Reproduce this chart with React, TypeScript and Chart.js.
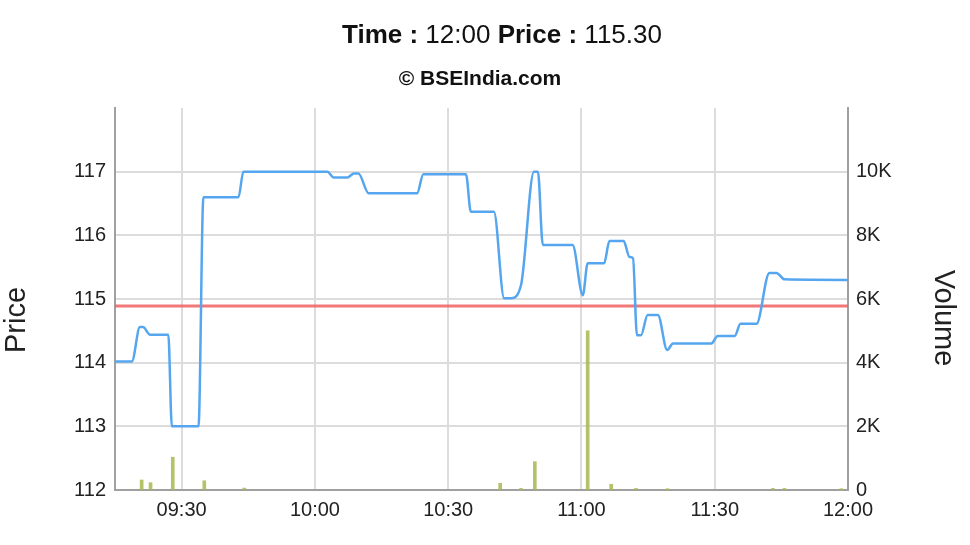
import React, { useEffect, useRef } from "react";
import { Chart, registerables } from "chart.js";

Chart.register(...registerables);

// ---- data (time in minutes after 09:00) ----
const titleTime = "12:00";
const titlePrice = "115.30";
const subtitleText = "© BSEIndia.com";
const priceAxisTitle = "Price";
const volumeAxisTitle = "Volume";

const priceTimes = [
  15.0, 18.8, 20.6, 21.3, 22.9, 27.0, 27.8, 33.8, 34.9, 42.8, 43.9, 62.8, 64.2, 67.3,
  68.8, 69.8, 72.1, 83.0, 84.4, 94.0, 95.1, 100.3, 102.6, 104.1, 106.4, 109.3, 110.2,
  111.3, 118.0, 120.3, 121.4, 125.1, 126.3, 129.5, 130.8, 131.6, 132.5, 133.4, 134.9,
  137.2, 139.3, 140.6, 149.2, 150.7, 154.5, 155.8, 159.4, 162.3, 163.9, 165.7, 180.0,
];
const prices = [
  114.02, 114.02, 114.56, 114.56, 114.44, 114.44, 113.0, 113.0, 116.6, 116.6, 117.0, 117.0,
  116.91, 116.91, 116.97, 116.97, 116.66, 116.66, 116.96, 116.96, 116.37, 116.37, 115.01,
  115.01, 115.22, 117.0, 117.0, 115.85, 115.85, 115.06, 115.56, 115.56, 115.91, 115.91,
  115.66, 115.64, 114.43, 114.43, 114.75, 114.75, 114.2, 114.3, 114.3, 114.42, 114.42,
  114.61, 114.61, 115.41, 115.41, 115.31, 115.3,
];

const volumeTimes = [21.0, 23.0, 28.0, 35.1, 44.1, 101.7, 106.4, 109.5, 121.4, 126.7, 132.3, 139.4, 163.1, 165.7, 178.5];
const volumes = [314, 230, 1030, 290, 60, 210, 50, 890, 5000, 180, 50, 40, 50, 50, 40];

const prevClose = 114.89;
const sessionStart = 15;
const sessionEnd = 180;
const timeTicks = [30, 60, 90, 120, 150, 180];
const priceTicks = [112, 113, 114, 115, 116, 117];
const priceMin = 112;
const priceMax = 118;
const volumeTicks = [0, 2000, 4000, 6000, 8000, 10000];
const volumeMax = 12000;

const FONT = '"Liberation Sans", Arial, sans-serif';

function fmtTime(m: number): string {
  const h = 9 + Math.floor(m / 60);
  const mm = Math.round(m % 60);
  return String(h).padStart(2, "0") + ":" + String(mm).padStart(2, "0");
}

const textPlugin = {
  id: "bseText",
  afterDraw(chart: any) {
    const ctx = chart.ctx as CanvasRenderingContext2D;
    ctx.save();
    ctx.fillStyle = "#111";
    ctx.textBaseline = "middle";
    ctx.textAlign = "left";
    const parts: [string, boolean][] = [
      ["Time : ", true],
      [titleTime + " ", false],
      ["Price : ", true],
      [titlePrice, false],
    ];
    let total = 0;
    const widths: number[] = [];
    for (const [t, b] of parts) {
      ctx.font = (b ? "bold " : "") + "26px " + FONT;
      const w = ctx.measureText(t).width;
      widths.push(w);
      total += w;
    }
    let x = 502 - total / 2;
    parts.forEach(([t, b], i) => {
      ctx.font = (b ? "bold " : "") + "26px " + FONT;
      ctx.fillText(t, x, 36);
      x += widths[i];
    });
    ctx.font = "bold 21px " + FONT;
    ctx.textAlign = "center";
    ctx.fillText(subtitleText, 480, 79);

    ctx.fillStyle = "#222";
    ctx.font = "29px " + FONT;
    ctx.save();
    ctx.translate(17, 320);
    ctx.rotate(-Math.PI / 2);
    ctx.fillText(priceAxisTitle, 0, 0);
    ctx.restore();
    ctx.save();
    ctx.translate(943, 318);
    ctx.rotate(Math.PI / 2);
    ctx.fillText(volumeAxisTitle, 0, 0);
    ctx.restore();
    ctx.restore();
  },
};

export default function App() {
  const ref = useRef<HTMLCanvasElement | null>(null);
  useEffect(() => {
    if (!ref.current) return;
    const priceData = priceTimes.map((t, i) => ({ x: t, y: prices[i] }));
    const volData = volumeTimes.map((t, i) => ({ x: t, y: volumes[i] }));
    const closeData = [
      { x: sessionStart, y: prevClose },
      { x: sessionEnd, y: prevClose },
    ];
    const tickFont = { family: FONT, size: 20 };
    const chart = new Chart(ref.current, {
      type: "line",
      data: {
        datasets: [
          {
            type: "line",
            data: priceData,
            borderColor: "#55a6ee",
            borderWidth: 2.5,
            pointRadius: 0,
            cubicInterpolationMode: "monotone",
            yAxisID: "y",
            order: 1,
          } as any,
          {
            type: "line",
            data: closeData,
            borderColor: "rgba(240,95,95,0.85)",
            borderWidth: 3,
            pointRadius: 0,
            yAxisID: "y",
            order: 2,
          } as any,
          {
            type: "bar",
            data: volData,
            backgroundColor: "rgba(165,185,80,0.85)",
            barThickness: 3,
            yAxisID: "yVol",
            order: 3,
          } as any,
        ],
      },
      options: {
        animation: false,
        responsive: true,
        maintainAspectRatio: false,
        layout: { padding: { top: 108, left: 0, right: 0, bottom: 0 } },
        plugins: { legend: { display: false }, tooltip: { enabled: false }, title: { display: false } },
        scales: {
          x: {
            type: "linear",
            min: sessionStart,
            max: sessionEnd,
            offset: false,
            afterBuildTicks: (s: any) => {
              s.ticks = timeTicks.map((v) => ({ value: v }));
            },
            afterFit: (s: any) => {
              s.height = 55;
            },
            ticks: {
              color: "#222",
              font: tickFont,
              padding: 8,
              maxRotation: 0,
              autoSkip: false,
              callback: (v: any) => fmtTime(Number(v)),
            },
            grid: { color: "#dcdcdc", lineWidth: 2, drawTicks: false, offset: false },
            border: { display: true, color: "#a0a0a0", width: 2 },
          },
          y: {
            type: "linear",
            position: "left",
            min: priceMin,
            max: priceMax,
            afterBuildTicks: (s: any) => {
              s.ticks = priceTicks.map((v) => ({ value: v }));
            },
            afterFit: (s: any) => {
              s.width = 115;
            },
            ticks: { color: "#222", font: tickFont, padding: 9, callback: (v: any) => String(v) },
            grid: { color: "#dcdcdc", lineWidth: 2, drawTicks: false },
            border: { display: true, color: "#a0a0a0", width: 2 },
          },
          yVol: {
            type: "linear",
            position: "right",
            min: 0,
            max: volumeMax,
            afterBuildTicks: (s: any) => {
              s.ticks = volumeTicks.map((v) => ({ value: v }));
            },
            afterFit: (s: any) => {
              s.width = 122;
            },
            ticks: {
              color: "#222",
              font: tickFont,
              padding: 8,
              callback: (v: any) => (Number(v) === 0 ? "0" : Number(v) / 1000 + "K"),
            },
            grid: { display: false, drawTicks: false },
            border: { display: true, color: "#a0a0a0", width: 2 },
          },
        },
      },
      plugins: [textPlugin],
    } as any);
    return () => chart.destroy();
  }, []);
  return (
    <div style={{ position: "absolute", left: 0, top: 0, width: 970, height: 545, background: "#fff" }}>
      <canvas ref={ref} />
    </div>
  );
}
